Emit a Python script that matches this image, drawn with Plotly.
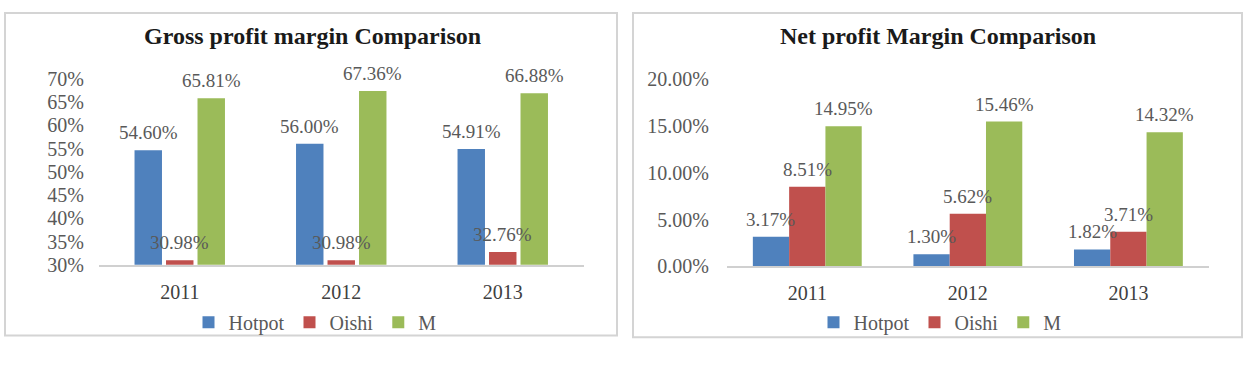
import plotly.graph_objects as go

years = ["2011", "2012", "2013"]
series = ["Hotpot", "Oishi", "M"]
gross_hotpot = [54.60, 56.00, 54.91]
gross_oishi = [30.98, 30.98, 32.76]
gross_m = [65.81, 67.36, 66.88]
net_hotpot = [3.17, 1.30, 1.82]
net_oishi = [8.51, 5.62, 3.71]
net_m = [14.95, 15.46, 14.32]
gross_ticks = [30, 35, 40, 45, 50, 55, 60, 65, 70]
net_ticks = [0, 5, 10, 15, 20]

colors = ["#4F81BD", "#C0504D", "#9BBB59"]
FONT = "Liberation Serif, Times New Roman, serif"
LABEL_COLOR = "#595959"

W, H = 1245, 368

# plot-area geometry (pixels)
LX0, LX1 = 99, 583.5
RX0, RX1 = 727, 1208.7
left_cat_px = (LX1 - LX0) / 3
right_cat_px = (RX1 - RX0) / 3

fig = go.Figure()

left_off = [-0.28, -0.085, 0.11]
left_w = 0.17
right_off = [-0.339, -0.113, 0.113]
right_w = 0.226

annotations = []
label_font = dict(family=FONT, size=19, color=LABEL_COLOR)

for i, (name, vals) in enumerate(zip(series, [gross_hotpot, gross_oishi, gross_m])):
    fig.add_trace(go.Bar(
        x=years, y=vals, name=name, marker=dict(color=colors[i], line=dict(width=0)),
        width=left_w, offset=left_off[i],
        xaxis="x", yaxis="y", legend="legend",
    ))
    for j, v in enumerate(vals):
        annotations.append(dict(
            x=j, y=v, xref="x", yref="y", text=f"{v:.2f}%", showarrow=False,
            xanchor="center", yanchor="bottom",
            xshift=(left_off[i] + left_w / 2) * left_cat_px, yshift=5,
            font=label_font))

for i, (name, vals) in enumerate(zip(series, [net_hotpot, net_oishi, net_m])):
    fig.add_trace(go.Bar(
        x=years, y=vals, name=name, marker=dict(color=colors[i], line=dict(width=0)),
        width=right_w, offset=right_off[i],
        xaxis="x2", yaxis="y2", legend="legend2",
    ))
    for j, v in enumerate(vals):
        annotations.append(dict(
            x=j, y=v, xref="x2", yref="y2", text=f"{v:.2f}%", showarrow=False,
            xanchor="center", yanchor="bottom",
            xshift=(right_off[i] + right_w / 2) * right_cat_px, yshift=5,
            font=label_font))

axis_font = dict(family=FONT, size=20, color=LABEL_COLOR)
year_font = dict(family=FONT, size=20, color="#404040")
legend_font = dict(family=FONT, size=20, color=LABEL_COLOR)
title_font = dict(family=FONT, size=24, color="#1a1a1a")

annotations += [
    dict(text="<b>Gross profit margin Comparison</b>", x=312 / W, y=1 - 27 / H,
         xref="paper", yref="paper", xanchor="center", yanchor="middle", showarrow=False,
         font=title_font),
    dict(text="<b>Net profit Margin Comparison</b>", x=938 / W, y=1 - 27 / H,
         xref="paper", yref="paper", xanchor="center", yanchor="middle", showarrow=False,
         font=title_font),
]

fig.update_layout(
    width=W, height=H,
    margin=dict(l=0, r=0, t=0, b=0),
    paper_bgcolor="white", plot_bgcolor="white",
    barmode="group",
    showlegend=True,
    xaxis=dict(domain=[LX0 / W, LX1 / W], anchor="y", type="category",
               range=[-0.5, 2.5], autorange=False,
               showline=True, linecolor="#d0d0d0", linewidth=1.5,
               showgrid=False, zeroline=False, ticks="", tickfont=year_font,
               ticklabelstandoff=8),
    yaxis=dict(domain=[1 - 270 / H, 1 - 72 / H], anchor="x", range=[30, 70], autorange=False,
               tickvals=gross_ticks, ticktext=[f"{v}%" for v in gross_ticks],
               showline=False, showgrid=False, zeroline=False, ticks="",
               tickfont=axis_font, ticklabelstandoff=14),
    xaxis2=dict(domain=[RX0 / W, RX1 / W], anchor="y2", type="category",
                range=[-0.5, 2.5], autorange=False,
                showline=True, linecolor="#d0d0d0", linewidth=1.5,
                showgrid=False, zeroline=False, ticks="", tickfont=year_font,
                ticklabelstandoff=8),
    yaxis2=dict(domain=[1 - 271.7 / H, 1 - 72.3 / H], anchor="x2", range=[0, 20], autorange=False,
                tickvals=net_ticks, ticktext=[f"{v:.2f}%" for v in net_ticks],
                showline=False, showgrid=False, zeroline=False, ticks="",
                tickfont=axis_font, ticklabelstandoff=17),
    legend=dict(orientation="h", x=315 / W, xanchor="center", y=1 - 331 / H, yanchor="middle",
                font=legend_font, itemwidth=30, tracegroupgap=0, bgcolor="rgba(0,0,0,0)"),
    legend2=dict(orientation="h", x=940 / W, xanchor="center", y=1 - 331 / H, yanchor="middle",
                 font=legend_font, itemwidth=30, tracegroupgap=0, bgcolor="rgba(0,0,0,0)"),
    annotations=annotations,
    shapes=[
        dict(type="rect", xref="paper", yref="paper", x0=5 / W, x1=617 / W,
             y0=1 - 345 / H, y1=1 - 2 / H, line=dict(color="#d4d4d4", width=2)),
        dict(type="rect", xref="paper", yref="paper", x0=633 / W, x1=1242 / W,
             y0=1 - 347 / H, y1=1 - 2 / H, line=dict(color="#d4d4d4", width=2)),
    ],
)

fig.write_html("out.html")
